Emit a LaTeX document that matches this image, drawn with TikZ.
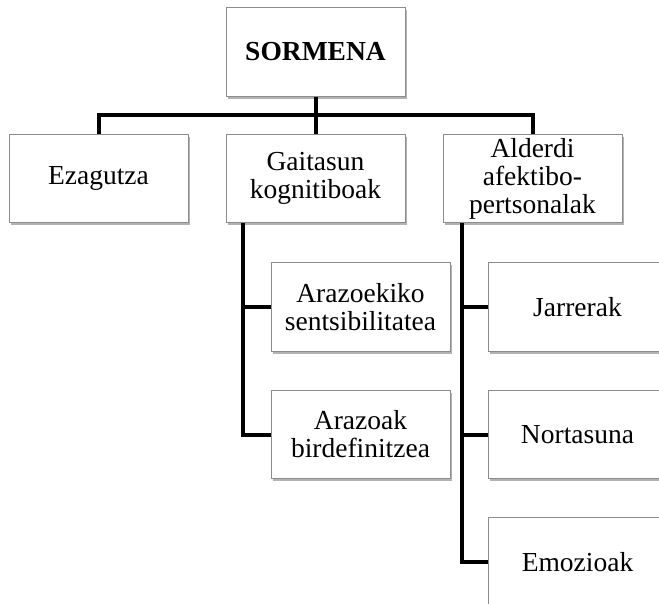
\documentclass[tikz,border=0pt]{standalone}
\usepackage{fontspec}
\setmainfont{Liberation Serif}
\usetikzlibrary{positioning,calc,shadows}

\begin{document}
\begin{tikzpicture}[x=1pt, y=-1pt, node distance=38pt,
    box/.style={draw=black!45, line width=1pt, fill=white, minimum width=179pt, minimum height=88.5pt,
      inner sep=2pt, align=center, font=\fontsize{27.5}{28}\selectfont,
      drop shadow={shadow xshift=1.5pt, shadow yshift=-2.5pt, fill=black!50, opacity=0.6}},
    link/.style={line width=4pt}]
  \useasboundingbox (0,0) rectangle (659,603);
  \node[box] (sormena) at (315.5,52) {\bfseries SORMENA};
  \node[box, below=37pt of sormena] (gaitasun) {Gaitasun\\kognitiboak};
  \node[box, left=37pt of gaitasun] (ezagutza) {Ezagutza};
  \node[box, right=37pt of gaitasun] (alderdi) {Alderdi\\afektibo-\\pertsonalak};
  \node[box, anchor=north west] (arazoekiko) at ([shift={(45,39)}]gaitasun.south west) {Arazoekiko\\sentsibilitatea};
  \node[box, below=of arazoekiko] (arazoak) {Arazoak\\birdefinitzea};
  \node[box, anchor=north west] (jarrerak) at ([shift={(45,39)}]alderdi.south west) {Jarrerak};
  \node[box, below=of jarrerak] (nortasuna) {Nortasuna};
  \node[box, below=of nortasuna] (emozioak) {Emozioak};
  \coordinate (bus) at ($(sormena.south)!0.5!(gaitasun.north)$);
  \coordinate (gtrunk) at ([xshift=17pt]gaitasun.south west);
  \coordinate (atrunk) at ([xshift=19pt]alderdi.south west);
  \draw[link] (sormena) -- (gaitasun);
  \draw[link] (ezagutza) |- (bus) -| (alderdi);
  \draw[link] (gtrunk) |- (arazoekiko);
  \draw[link] (gtrunk) |- (arazoak);
  \draw[link] (atrunk) |- (jarrerak);
  \draw[link] (atrunk) |- (nortasuna);
  \draw[link] (atrunk) |- (emozioak);
\end{tikzpicture}
\end{document}
